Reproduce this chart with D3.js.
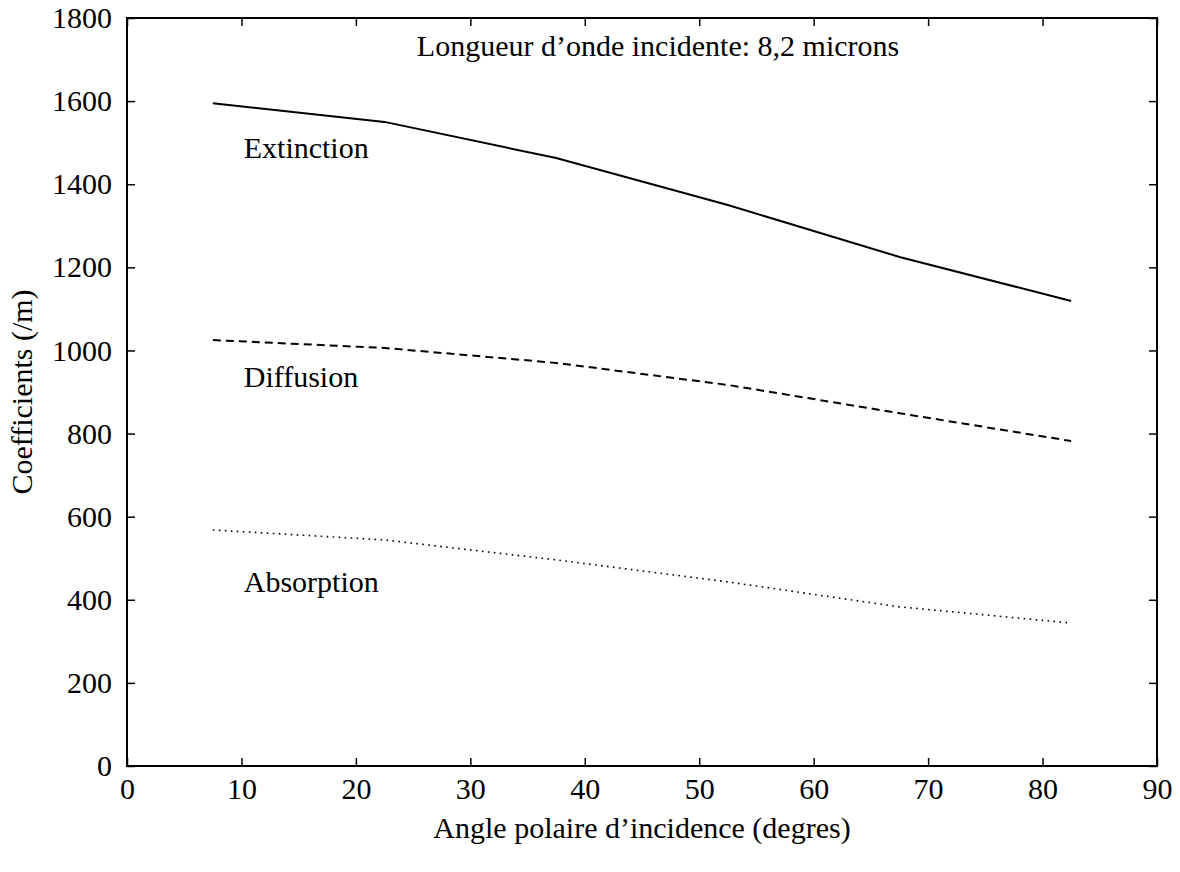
<!DOCTYPE html>
<html><head><meta charset="utf-8">
<script src="https://cdn.jsdelivr.net/npm/d3@7"></script>
<style>body{margin:0;background:#fff}svg{display:block}text{font-family:"Liberation Serif","DejaVu Serif",serif;fill:#000}</style>
</head><body>
<svg id="c" width="1180" height="872"></svg>
<script>
const angles = [7.5, 22.5, 37.5, 52.5, 67.5, 82.5];
const extinction = [1595, 1550, 1463, 1350, 1225, 1119];
const diffusion = [1025, 1006, 970, 917, 849, 782];
const absorption = [568, 544, 496, 443, 383, 344];
const xTicks = [0,10,20,30,40,50,60,70,80,90];
const yTicks = [0,200,400,600,800,1000,1200,1400,1600,1800];
const titleText = "Longueur d\u2019onde incidente: 8,2 microns";
const xLabel = "Angle polaire d\u2019incidence (degres)";
const yLabel = "Coefficients (/m)";

const FS = "30px";
const L=127,R=1157,T=18,B=766;
const svg=d3.select("#c");
const x=d3.scaleLinear().domain([0,90]).range([L,R]);
const y=d3.scaleLinear().domain([0,1800]).range([B,T]);

function styleAxis(g){g.select(".domain").remove();g.selectAll("line").attr("stroke","#000").attr("stroke-width",1.5);g.selectAll("text").style("font-size",FS).style("font-family","Liberation Serif");}
svg.append("g").attr("transform",`translate(0,${B})`).call(d3.axisBottom(x).tickValues(xTicks).tickSize(-8).tickPadding(12).tickFormat(d3.format("d"))).call(styleAxis);
svg.append("g").attr("transform",`translate(0,${T})`).call(d3.axisTop(x).tickValues(xTicks).tickSize(-8).tickFormat("")).call(styleAxis);
svg.append("g").attr("transform",`translate(${L},0)`).call(d3.axisLeft(y).tickValues(yTicks).tickSize(-8).tickPadding(15).tickFormat(d3.format("d"))).call(styleAxis);
svg.append("g").attr("transform",`translate(${R},0)`).call(d3.axisRight(y).tickValues(yTicks).tickSize(-8).tickFormat("")).call(styleAxis);
svg.append("rect").attr("x",L).attr("y",T).attr("width",R-L).attr("height",B-T).attr("fill","none").attr("stroke","#000").attr("stroke-width",2);

const line=d3.line().x((d,i)=>x(angles[i])).y(d=>y(d));
svg.append("path").datum(extinction).attr("d",line).attr("fill","none").attr("stroke","#000").attr("stroke-width",2);
svg.append("path").datum(diffusion).attr("d",line).attr("fill","none").attr("stroke","#000").attr("stroke-width",2).attr("stroke-dasharray","8,5");
svg.append("path").datum(absorption).attr("d",line).attr("fill","none").attr("stroke","#000").attr("stroke-width",1.6).attr("stroke-dasharray","1.6,4.4");

const lab=[["Extinction",1463],["Diffusion",912],["Absorption",419]];
lab.forEach(([t,v])=>svg.append("text").attr("x",x(10.2)).attr("y",y(v)).style("font-size",FS).text(t));

svg.append("text").attr("x",x(46.4)).attr("y",56).attr("text-anchor","middle").style("font-size",FS).text(titleText);
svg.append("text").attr("x",x(45.0)).attr("y",838).attr("text-anchor","middle").style("font-size",FS).text(xLabel);
svg.append("text").attr("transform",`translate(32,${y(900)}) rotate(-90)`).attr("text-anchor","middle").style("font-size",FS).text(yLabel);
</script>
</body></html>
